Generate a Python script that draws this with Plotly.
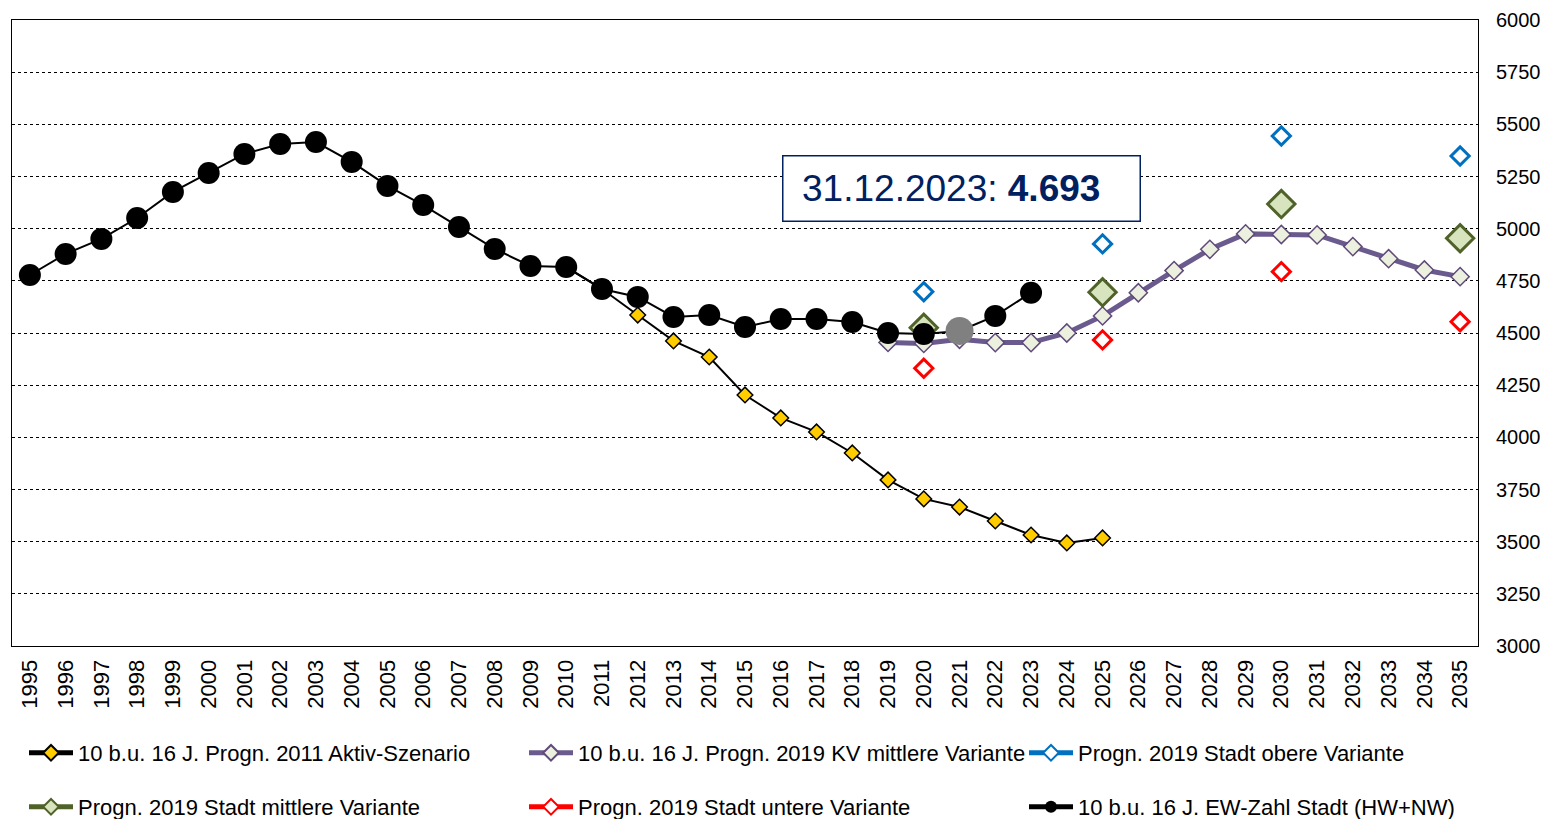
import plotly.graph_objects as go

years = [str(y) for y in range(1995, 2036)]

# 10 b.u. 16 J. EW-Zahl Stadt (HW+NW), 1995-2023
ew_years = [str(y) for y in range(1995, 2024)]
ew_values = [4778, 4879, 4951, 5051, 5176, 5267, 5358, 5406, 5415, 5320,
             5205, 5113, 5008, 4903, 4821, 4816, 4711, 4673, 4577, 4586,
             4529, 4567, 4567, 4553, 4500, 4495, 4510, 4582, 4693]

# Progn. 2011 Aktiv-Szenario, 2010-2025
aktiv_years = [str(y) for y in range(2010, 2026)]
aktiv_values = [4816, 4711, 4586, 4462, 4385, 4203, 4093, 4026, 3925, 3796,
                3705, 3666, 3599, 3532, 3494, 3518]

# Progn. 2019 KV mittlere Variante, 2019-2035
kv_years = [str(y) for y in range(2019, 2036)]
kv_values = [4455, 4450, 4470, 4454, 4454, 4500, 4582, 4693, 4799, 4901,
             4975, 4972, 4970, 4914, 4856, 4802, 4770]

# Progn. 2019 Stadt variants
stadt_years = ["2020", "2025", "2030", "2035"]
stadt_obere = [4698, 4927, 5444, 5348]
stadt_mittlere = [4525, 4695, 5118, 4954]
stadt_untere = [4331, 4467, 4794, 4554]

y_ticks = list(range(3000, 6001, 250))

FONT = "Liberation Sans, Arial, sans-serif"
W, H = 1541, 811  # page body keeps an 8px margin


def on_years(xs, vals):
    lookup = dict(zip(xs, vals))
    return [lookup.get(y) for y in years]


fig = go.Figure()

fig.add_trace(go.Scatter(
    x=aktiv_years, y=aktiv_values, mode="lines+markers",
    name="10 b.u. 16 J. Progn. 2011 Aktiv-Szenario",
    line=dict(color="black", width=2),
    marker=dict(symbol="diamond", size=12, color="#FFCC00", opacity=1,
                line=dict(color="black", width=1.5)),
    legend="legend",
))
fig.add_trace(go.Scatter(
    x=kv_years, y=kv_values, mode="lines+markers",
    name="10 b.u. 16 J. Progn. 2019 KV mittlere Variante",
    line=dict(color="#6B5A8E", width=5),
    marker=dict(symbol="diamond", size=14, color="#EBF1DE", opacity=1,
                line=dict(color="#604A7B", width=1.5)),
    legend="legend2",
))
fig.add_trace(go.Scatter(
    x=years, y=on_years(stadt_years, stadt_obere), mode="lines+markers",
    name="Progn. 2019 Stadt obere Variante", connectgaps=False,
    line=dict(color="#0070C0", width=4),
    marker=dict(symbol="diamond", size=14, color="white", opacity=1,
                line=dict(color="#0070C0", width=3)),
    legend="legend3",
))
fig.add_trace(go.Scatter(
    x=years, y=on_years(stadt_years, stadt_mittlere), mode="lines+markers",
    name="Progn. 2019 Stadt mittlere Variante", connectgaps=False,
    line=dict(color="#4F6228", width=4),
    marker=dict(symbol="diamond", size=21, color="#D7E4BD", opacity=1,
                line=dict(color="#4F6228", width=3)),
    legend="legend4",
))
fig.add_trace(go.Scatter(
    x=years, y=on_years(stadt_years, stadt_untere), mode="lines+markers",
    name="Progn. 2019 Stadt untere Variante", connectgaps=False,
    line=dict(color="#FF0000", width=4),
    marker=dict(symbol="diamond", size=14, color="white", opacity=1,
                line=dict(color="#FF0000", width=3)),
    legend="legend5",
))
fig.add_trace(go.Scatter(
    x=ew_years, y=ew_values, mode="lines+markers",
    name="10 b.u. 16 J. EW-Zahl Stadt (HW+NW)",
    line=dict(color="black", width=2),
    marker=dict(symbol="circle", opacity=1,
                size=[28 if y == "2021" else 22 for y in ew_years],
                color=["#808080" if y == "2021" else "black" for y in ew_years],
                line=dict(width=0)),
    legend="legend6",
))

# trailing spaces nudge the text a bit left inside the box, like the original
fig.add_annotation(
    xref="paper", yref="paper", x=0.648, y=0.7316,
    xanchor="center", yanchor="middle",
    text="31.12.2023: <b>4.693</b>&nbsp;&nbsp;", showarrow=False,
    font=dict(family=FONT, size=37, color="#002060"),
    width=354, height=62, bordercolor="#002060", borderwidth=1.5,
    bgcolor="white", align="center", valign="middle",
)


def legend_at(x_px, y_px):
    return dict(
        orientation="h", xref="container", yref="container",
        x=x_px / W, y=1 - y_px / H, xanchor="left", yanchor="middle",
        itemsizing="constant", itemwidth=44,
        font=dict(family=FONT, size=22, color="black"),
        bgcolor="rgba(0,0,0,0)",
    )


fig.update_layout(
    width=W, height=H, showlegend=True,
    margin=dict(l=4, r=71, t=12, b=173),
    paper_bgcolor="white", plot_bgcolor="white",
    font=dict(family=FONT, size=21, color="black"),
    legend=legend_at(16, 745),
    legend2=legend_at(516, 745),
    legend3=legend_at(1016, 745),
    legend4=legend_at(16, 799),
    legend5=legend_at(516, 799),
    legend6=legend_at(1016, 799),
    xaxis=dict(
        type="category", categoryorder="array", categoryarray=years,
        range=[-0.5, 40.5], tickangle=-90, showgrid=False,
        showline=True, linecolor="black", linewidth=1, mirror=True,
        ticks="", ticklabelstandoff=4, automargin=False,
        tickfont=dict(family=FONT, size=22),
    ),
    yaxis=dict(
        range=[3000, 6000], tickvals=y_ticks, side="right",
        showgrid=True, gridcolor="black", gridwidth=1, griddash="dot",
        showline=True, linecolor="black", linewidth=1, mirror=True,
        ticks="", ticklabelstandoff=13, zeroline=False, automargin=False,
        tickfont=dict(family=FONT, size=20),
    ),
)

fig.write_html("out.html")
